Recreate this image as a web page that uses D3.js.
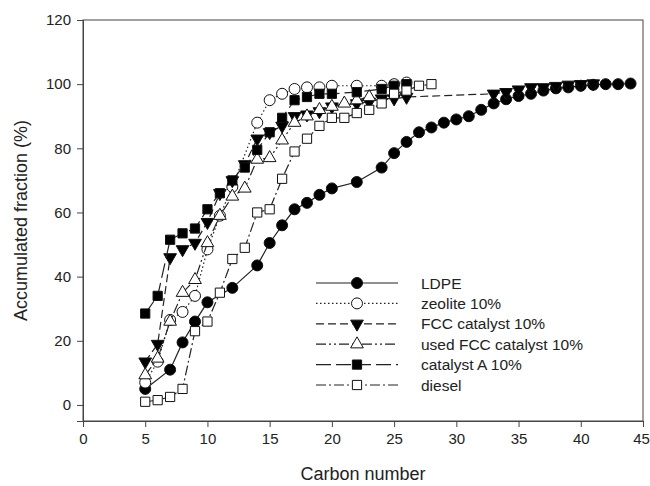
<!DOCTYPE html>
<html>
<head>
<meta charset="utf-8">
<script src="https://cdn.jsdelivr.net/npm/d3@7"></script>
<style>
body{margin:0;background:#fff}
text{font-family:"Liberation Sans",Arial,sans-serif;fill:#222}
</style>
</head>
<body>
<svg id="chart" width="650" height="486"></svg>
<script>
// carbon numbers + accumulated fraction for each sample
const ldpeX = [5,7,8,9,10,12,14,15,16,17,18,19,20,22,24,25,26,27,28,29,30,31,32,33,34,35,36,37,38,39,40,41,42,43,44]
const ldpeY = [5,11,19.5,26,32,36.5,43.5,50.5,56,61,63,65.5,67.5,69.5,74,78.5,82,85,86.5,88,89,90,92,94,95.3,96.3,97,98,98.7,99,99.5,99.8,100,100,100.2]

const zeoX = [5,6,7,8,9,10,11,12,14,15,16,17,18,19,20,22,24,25,26]
const zeoY = [7,13.5,26.5,29,34,48.5,59,68,88,95,97,98.5,99,99,99.5,99.5,99.5,100,100.5]

const fccX = [5,6,7,8,9,10,11,12,13,14,15,16,17,18,19,20,22,23,24,25,26,33,34,35,36,37,38,39,40,41]
const fccY = [13.5,19,46,48.5,50.5,57,66,70,75,83,85,87,90,90.5,91.5,93,94,94.5,95.5,95.5,96,97,97.5,98.3,99,99,99.4,99.8,100,100.2]

const usedX = [5,6,7,8,9,10,11,12,13,14,15,16,17,18,19,20,21,22,23]
const usedY = [9.3,14.5,26,35,39,50.5,59,65,67.5,76.5,77,82.5,88,90,92,93,94,95,96]

const catAX = [5,6,7,8,9,10,11,12,13,14,15,16,17,18,19,20,22,24,25,26]
const catAY = [28.5,34,51.5,53.5,55,61,66,70,74,79.5,85,89.5,95,96,97,97,97.5,98.5,99.5,100]

const dieselX = [5,6,7,8,9,10,11,12,13,14,15,16,17,18,19,20,21,22,23,24,25,26,27,28]
const dieselY = [1,1.5,2.5,5,23,26,35,45.5,49,60,61,70.5,79,83,87,89.5,89.5,91,92,94,97,98,99.5,100]

const seriesNames = ["LDPE","zeolite 10%","FCC catalyst 10%","used FCC catalyst 10%","catalyst A 10%","diesel"]
const xTicks = [0,5,10,15,20,25,30,35,40,45]
const yTicks = [0,20,40,60,80,100,120]

const series = [
  {name:seriesNames[0], x:ldpeX, y:ldpeY, sym:d3.symbolCircle, fill:"#000", dash:null},
  {name:seriesNames[1], x:zeoX, y:zeoY, sym:d3.symbolCircle, fill:"#fff", dash:"1.5,2.5"},
  {name:seriesNames[2], x:fccX, y:fccY, sym:"down", fill:"#000", dash:"8,4"},
  {name:seriesNames[3], x:usedX, y:usedY, sym:d3.symbolTriangle, fill:"#fff", dash:"10,3,2,3,2,3"},
  {name:seriesNames[4], x:catAX, y:catAY, sym:d3.symbolSquare, fill:"#000", dash:"15,5"},
  {name:seriesNames[5], x:dieselX, y:dieselY, sym:d3.symbolSquare, fill:"#fff", dash:"10,3,2,3"}
]

const svg = d3.select("#chart")
const m = {l:83, t:20, r:7, b:65}
const W = 650, H = 486

const x = d3.scaleLinear().domain([0,45]).range([m.l, W-m.r])
const y = d3.scaleLinear().domain([-5,120]).range([H-m.b, m.t])

// frame
svg.append("rect")
.attr("x",m.l).attr("y",m.t)
.attr("width",W-m.r-m.l).attr("height",H-m.b-m.t)
.attr("fill","none").attr("stroke","#444").attr("stroke-width",1)

// minor ticks first, then major ones with labels
const gx = svg.append("g").attr("transform",`translate(0,${H-m.b})`)
gx.call(d3.axisBottom(x).tickValues(d3.range(0,46,1)).tickSize(3).tickFormat(""))
gx.call(d3.axisBottom(x).tickValues(xTicks).tickSize(6).tickPadding(6).tickFormat(d3.format("d")))
gx.selectAll("path.domain").attr("stroke","#444")
gx.selectAll("line").attr("stroke","#444")
gx.selectAll("text").style("font-size","15px").attr("fill","#222")
// last label sits on the page edge, pull it in a bit
gx.selectAll(".tick text").filter(d=>d===45).attr("dx",-2)

const gy = svg.append("g").attr("transform",`translate(${m.l},0)`)
gy.call(d3.axisLeft(y).tickValues(d3.range(-5,121,5)).tickSize(3).tickFormat(""))
gy.call(d3.axisLeft(y).tickValues(yTicks).tickSize(6).tickPadding(6).tickFormat(d3.format("d")))
gy.selectAll("path.domain").attr("stroke","#444")
gy.selectAll("line").attr("stroke","#444")
gy.selectAll("text").style("font-size","15px").attr("fill","#222")

svg.append("text")
.attr("x",(m.l+W-m.r)/2).attr("y",480)
.attr("text-anchor","middle")
.style("font-size","18px")
.text("Carbon number")

svg.append("text")
.attr("transform",`translate(27,${(m.t+H-m.b)/2}) rotate(-90)`)
.attr("text-anchor","middle")
.style("font-size","18px")
.text("Accumulated fraction (%)")

function symPath(s){
  if(s==="down") return d3.symbol().type(d3.symbolTriangle).size(70)()
  if(s===d3.symbolSquare) return d3.symbol().type(s).size(85)()
  if(s===d3.symbolTriangle) return d3.symbol().type(s).size(70)()
  return d3.symbol().type(s).size(95)()
}

const line = d3.line().x(d=>x(d[0])).y(d=>y(d[1]))

series.forEach(s=>{
  const pts = s.x.map((v,i)=>[v,s.y[i]])
  const g = svg.append("g")
  g.append("path")
  .attr("d",line(pts))
  .attr("fill","none").attr("stroke","#222").attr("stroke-width",1.2)
  .attr("stroke-dasharray",s.dash)
  g.selectAll("path.pt").data(pts).join("path")
  .attr("class","pt")
  .attr("d",symPath(s.sym))
  .attr("transform",d=>`translate(${x(d[0])},${y(d[1])})`+(s.sym==="down"?" rotate(180)":""))
  .attr("fill",s.fill).attr("stroke","#111").attr("stroke-width",1)
})

// legend
const lg = svg.append("g")
series.forEach((s,i)=>{
  const ly = 283 + i*20.4
  lg.append("line")
  .attr("x1",316).attr("x2",398).attr("y1",ly).attr("y2",ly)
  .attr("stroke","#222").attr("stroke-width",1.2).attr("stroke-dasharray",s.dash)
  lg.append("path")
  .attr("d",symPath(s.sym))
  .attr("transform",`translate(357,${ly})`+(s.sym==="down"?" rotate(180)":""))
  .attr("fill",s.fill).attr("stroke","#111")
  lg.append("text")
  .attr("x",421).attr("y",ly+5.5)
  .style("font-size","15.5px")
  .text(s.name)
})
</script>
</body>
</html>
